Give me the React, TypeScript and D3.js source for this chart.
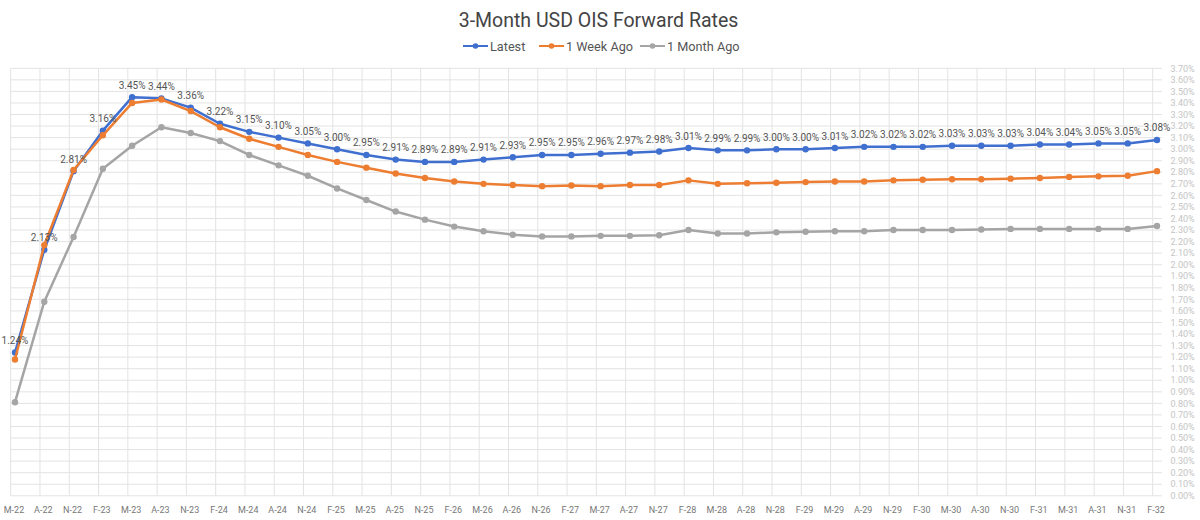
import React from 'react';
import * as d3 from 'd3';

const categories = [
  'M-22', 'A-22', 'N-22', 'F-23', 'M-23', 'A-23', 'N-23', 'F-24', 'M-24', 'A-24',
  'N-24', 'F-25', 'M-25', 'A-25', 'N-25', 'F-26', 'M-26', 'A-26', 'N-26', 'F-27',
  'M-27', 'A-27', 'N-27', 'F-28', 'M-28', 'A-28', 'N-28', 'F-29', 'M-29', 'A-29',
  'N-29', 'F-30', 'M-30', 'A-30', 'N-30', 'F-31', 'M-31', 'A-31', 'N-31', 'F-32',
];

const latest = [
  1.24, 2.13, 2.81, 3.16, 3.45, 3.44, 3.36, 3.22, 3.15, 3.10,
  3.05, 3.00, 2.95, 2.91, 2.89, 2.89, 2.91, 2.93, 2.95, 2.95,
  2.96, 2.97, 2.98, 3.01, 2.99, 2.99, 3.00, 3.00, 3.01, 3.02,
  3.02, 3.02, 3.03, 3.03, 3.03, 3.04, 3.04, 3.05, 3.05, 3.08,
];

const weekAgo = [
  1.18, 2.17, 2.82, 3.12, 3.40, 3.43, 3.33, 3.19, 3.09, 3.02,
  2.95, 2.89, 2.84, 2.79, 2.75, 2.72, 2.70, 2.69, 2.68, 2.685,
  2.68, 2.69, 2.69, 2.73, 2.70, 2.705, 2.71, 2.715, 2.72, 2.72,
  2.73, 2.735, 2.74, 2.74, 2.745, 2.75, 2.76, 2.765, 2.77, 2.81,
];

const monthAgo = [
  0.81, 1.68, 2.24, 2.83, 3.03, 3.19, 3.14, 3.07, 2.95, 2.86,
  2.77, 2.66, 2.56, 2.46, 2.39, 2.33, 2.29, 2.26, 2.245, 2.245,
  2.25, 2.25, 2.255, 2.30, 2.27, 2.27, 2.28, 2.285, 2.29, 2.29,
  2.30, 2.30, 2.30, 2.305, 2.31, 2.31, 2.31, 2.31, 2.31, 2.335,
];

const seriesNames = ['Latest', '1 Week Ago', '1 Month Ago'];
const seriesColors = ['#3F6FCF', '#ED7D31', '#A5A5A5'];
const yTicks = d3.range(38).map((i) => i / 10);

const W = 1200;
const H = 520;
const FONT = 'Roboto, "Noto Sans", sans-serif';

export default function App() {
  const x = d3.scalePoint<string>().domain(categories).range([15, 1157]);
  const y = d3.scaleLinear().domain([0, 3.7]).range([495.8, 68.3]);
  const gridOffset = 4.3;
  const plotRight = 1162;

  const allSeries = [latest, weekAgo, monthAgo];
  const line = d3
    .line<number>()
    .x((_, i) => x(categories[i]) as number)
    .y((d) => y(d));

  const legendX = [463, 539, 640];

  return (
    <svg
      width={W}
      height={H}
      style={{ position: 'absolute', left: 0, top: 0, background: '#fff' }}
      fontFamily={FONT}
    >
      <rect x={0} y={0} width={W} height={H} fill="#fff" />
      <text x={598.5} y={27} textAnchor="middle" fontSize={19.5} fill="#444">
        3-Month USD OIS Forward Rates
      </text>

      {seriesNames.map((name, i) => (
        <g key={name} transform={`translate(${legendX[i]},46)`}>
          <line x1={0} x2={25} y1={0} y2={0} stroke={seriesColors[i]} strokeWidth={2} />
          <circle cx={12.5} cy={0} r={2.8} fill={seriesColors[i]} />
          <text x={27} y={4.5} fontSize={12.7} fill="#555">
            {name}
          </text>
        </g>
      ))}

      {/* horizontal grid + right axis labels */}
      {yTicks.map((t) => (
        <g key={'h' + t}>
          <line
            x1={10.7}
            x2={plotRight}
            y1={y(t)}
            y2={y(t)}
            stroke="#e3e3e3"
            strokeWidth={1}
          />
          <text x={1170.5} y={y(t) + 3.2} fontSize={9} fill="#c4c4c4">
            {t.toFixed(2) + '%'}
          </text>
        </g>
      ))}

      {/* vertical grid + x labels */}
      {categories.map((c) => (
        <g key={'v' + c}>
          <line
            x1={(x(c) as number) - gridOffset}
            x2={(x(c) as number) - gridOffset}
            y1={y(3.7)}
            y2={y(0)}
            stroke="#e3e3e3"
            strokeWidth={1}
          />
          <text
            x={(x(c) as number) - 1}
            y={512.5}
            textAnchor="middle"
            fontSize={9}
            fill="#777"
          >
            {c}
          </text>
        </g>
      ))}

      {/* series */}
      {allSeries.map((s, si) => (
        <g key={'s' + si}>
          <path
            d={line(s) || ''}
            fill="none"
            stroke={seriesColors[si]}
            strokeWidth={2.5}
            strokeLinejoin="round"
          />
          {s.map((v, i) => (
            <circle
              key={i}
              cx={x(categories[i]) as number}
              cy={y(v)}
              r={3.2}
              fill={seriesColors[si]}
            />
          ))}
        </g>
      ))}

      {/* data labels for Latest */}
      {latest.map((v, i) => (
        <text
          key={'l' + i}
          x={x(categories[i]) as number}
          y={y(v) - 8.5}
          textAnchor="middle"
          fontSize={10}
          fill="#555"
        >
          {v.toFixed(2) + '%'}
        </text>
      ))}
    </svg>
  );
}
